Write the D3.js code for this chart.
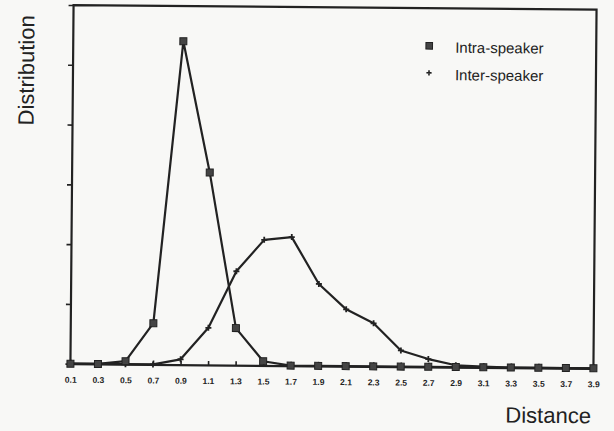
<!DOCTYPE html>
<html>
<head>
<meta charset="utf-8">
<script src="https://cdn.jsdelivr.net/npm/d3@7"></script>
<style>
  body { margin: 0; background: #f8f8f6; }
  svg { display: block; font-family: "Liberation Sans", Arial, sans-serif; }
</style>
</head>
<body>
<svg id="chart" width="614" height="431"></svg>
<script>
// distance bins (x categories)
const distances = ["0.1", "0.3", "0.5", "0.7", "0.9", "1.1", "1.3", "1.5", "1.7", "1.9",
                   "2.1", "2.3", "2.5", "2.7", "2.9", "3.1", "3.3", "3.5", "3.7", "3.9"];
const intraSpeaker = [0, 0, 0.05, 0.69, 5.41, 3.22, 0.62, 0.07, 0, 0,
                      0, 0, 0, 0, 0, 0, 0, 0, 0, 0];
const interSpeaker = [0, 0, 0, 0, 0.09, 0.62, 1.57, 2.10, 2.15, 1.37,
                      0.95, 0.72, 0.27, 0.13, 0.03, 0.01, 0, 0, 0, 0];
const yTicks = [0, 1, 2, 3, 4, 5, 6];
const legendLabels = ["Intra-speaker", "Inter-speaker"];

const ink = "#222";
const margin = { top: 7.3, right: 19, bottom: 65, left: 72 };
const width = 614, height = 431;

const root = d3.select("#chart");
// the scan is slightly tilted
const svg = root.append("g").attr("transform", "rotate(0.5, 333, 186)");

const x = d3.scalePoint()
  .domain(distances)
  .range([margin.left, width - margin.right]);

const y = d3.scaleLinear()
  .domain([0, 6])
  .range([height - margin.bottom, margin.top]);

// frame
const x0 = margin.left, x1 = width - margin.right, yTop = y(6), yBot = y(0);
svg.append("path")
  .attr("d", `M${x0},${yBot}V${yTop}H${x1}V${yBot}`)
  .attr("fill", "none")
  .attr("stroke", ink)
  .attr("stroke-width", 2.2);

// y axis, ticks only
const yAxis = svg.append("g")
  .attr("transform", `translate(${margin.left},0)`)
  .call(d3.axisLeft(y).tickValues(yTicks).tickFormat("").tickSize(5));
yAxis.select(".domain").remove();
yAxis.selectAll("line").attr("stroke", ink).attr("stroke-width", 1.6);

// x axis
const xAxis = svg.append("g")
  .attr("transform", `translate(0,${y(0)})`)
  .call(d3.axisBottom(x).tickSizeInner(-4).tickSizeOuter(0).tickPadding(13));
xAxis.select(".domain").attr("stroke", ink).attr("stroke-width", 2.2);
xAxis.selectAll("line").attr("stroke", ink).attr("stroke-width", 1.6);
xAxis.selectAll("text")
  .attr("fill", ink)
  .attr("font-size", "8.5px")
  .attr("font-weight", "bold");

// lines
const line = d3.line()
  .x((d, i) => x(distances[i]))
  .y(d => y(d));

[intraSpeaker, interSpeaker].forEach(series => {
  svg.append("path")
    .datum(series)
    .attr("d", line)
    .attr("fill", "none")
    .attr("stroke", ink)
    .attr("stroke-width", 2.2)
    .attr("stroke-linejoin", "round");
});

// inter-speaker markers: plus
const plus = (cx, cy, s) => `M${cx - s},${cy}H${cx + s}M${cx},${cy - s}V${cy + s}`;
svg.selectAll("path.inter")
  .data(interSpeaker)
  .enter().append("path")
  .attr("class", "inter")
  .attr("d", (d, i) => plus(x(distances[i]), y(d), 3))
  .attr("stroke", ink)
  .attr("stroke-width", 1.8);

// intra-speaker markers: filled squares
svg.selectAll("rect.intra")
  .data(intraSpeaker)
  .enter().append("rect")
  .attr("class", "intra")
  .attr("x", (d, i) => x(distances[i]) - 3.5)
  .attr("y", d => y(d) - 3.5)
  .attr("width", 7)
  .attr("height", 7)
  .attr("fill", "#444")
  .attr("stroke", ink)
  .attr("stroke-width", 1);

// legend
const legend = svg.append("g").attr("transform", "translate(428,45)");
legend.append("rect")
  .attr("x", -3.3).attr("y", -3.3).attr("width", 6.6).attr("height", 6.6)
  .attr("fill", "#444").attr("stroke", ink);
legend.append("path")
  .attr("d", plus(0, 27, 2.6))
  .attr("stroke", ink).attr("stroke-width", 1.6);
legendLabels.forEach((t, i) => {
  legend.append("text")
    .attr("x", 26)
    .attr("y", 6.7 + i * 27.5)
    .attr("font-size", "15px")
    .attr("fill", ink)
    .text(t);
});

// axis titles
svg.append("text")
  .attr("transform", "rotate(-90)")
  .attr("x", -73)
  .attr("y", 33)
  .attr("text-anchor", "middle")
  .attr("font-size", "22px")
  .attr("fill", ink)
  .text("Distribution");

svg.append("text")
  .attr("x", 593)
  .attr("y", 421)
  .attr("text-anchor", "end")
  .attr("font-size", "22px")
  .attr("fill", ink)
  .text("Distance");
</script>
</body>
</html>
